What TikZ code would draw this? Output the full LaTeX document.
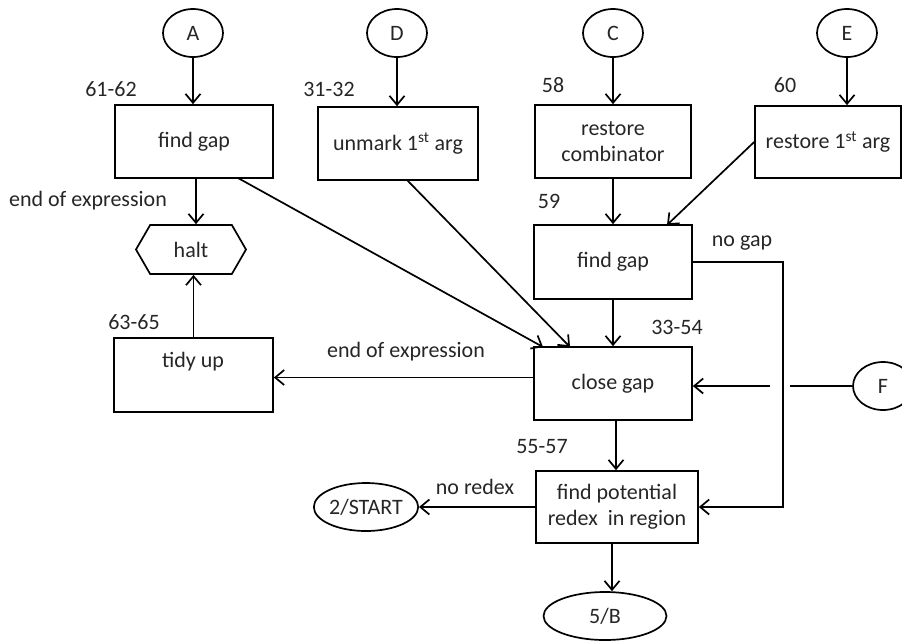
\documentclass[tikz,border=0pt]{standalone}
\usepackage{fontspec}
\setmainfont{Carlito}
\usetikzlibrary{shapes.geometric,shapes.symbols,arrows.meta,calc}
\begin{document}
\begin{tikzpicture}[x=1pt,y=-1pt,
  every node/.style={font=\fontsize{22}{26}\selectfont, text=black!85},
  box/.style={draw, line width=1.7pt, rectangle, align=center, inner sep=0pt},
  oval/.style={draw, line width=1.7pt, ellipse, inner sep=0pt},
  lbl/.style={inner sep=0pt},
  conn/.style={line width=1.7pt},
  arr/.style={conn, -{Straight Barb[length=9pt,width=15pt,line width=1.7pt]}}]
\useasboundingbox (0,0) rectangle (902,641);
% top ovals
\node[oval, minimum width=60, minimum height=48] (A) at (193,33) {A};
\node[oval, minimum width=60, minimum height=48] (D) at (397,33) {D};
\node[oval, minimum width=60, minimum height=48] (C) at (613,33) {C};
\node[oval, minimum width=60, minimum height=48] (E) at (847,33) {E};
% boxes
\node[box, minimum width=158, minimum height=73] (fg1) at (194,141.5) {find gap};
\node[box, minimum width=160, minimum height=73] (unmark) at (398,143.5) {unmark 1\textsuperscript{st} arg};
\node[box, minimum width=156, minimum height=73] (rc) at (613,141.5) {restore\\combinator};
\node[box, minimum width=146, minimum height=72] (r1) at (828,142) {restore 1\textsuperscript{st} arg};
\node[draw, line width=1.7pt, signal, signal to=west and east, signal pointer angle=120,
      minimum width=110, minimum height=49, inner sep=0pt] (halt) at (191,249.5) {halt};
\node[box, minimum width=158, minimum height=74] (fg2) at (613,262) {find gap};
\node[box, minimum width=158, minimum height=73] (close) at (613,383.5) {close gap};
\node[box, minimum width=159, minimum height=74] (tidy) at (193.5,375) {};
\node[lbl] (tidytxt) at (193,362) {tidy up};
\node[box, minimum width=162, minimum height=72] (fp) at (617,507) {find potential\\redex\ \ in region};
\node[oval, minimum width=98, minimum height=48] (start) at (366,507) {2/START};
\node[oval, minimum width=123, minimum height=48] (B) at (605,616) {5/B};
\node[oval, minimum width=60, minimum height=48] (F) at (883,386) {F};
% labels
\node[lbl] (l1) at (111,89) {61-62};
\node[lbl] (l2) at (329,89) {31-32};
\node[lbl] (l3) at (553,85) {58};
\node[lbl] (l4) at (785,85) {60};
\node[lbl] (l5) at (549,201) {59};
\node[lbl] (l6) at (88,201) {end of expression};
\node[lbl] (l7) at (742,243) {no gap};
\node[lbl] (l8) at (134,322) {63-65};
\node[lbl] (l9) at (677,327) {33-54};
\node[lbl] (l10) at (406,352) {end of expression};
\node[lbl] (l11) at (542,447) {55-57};
\node[lbl] (l12) at (475,487) {no redex};
% helper coordinates
\coordinate (ng) at (783,262);
\coordinate (fa) at (790,386);
\coordinate (fb) at (770,386);
\coordinate (fg1s) at (196,178);
\coordinate (fg1d) at (238,178);
\coordinate (umd) at (407,180);
\coordinate (cl1) at (543,347);
\coordinate (cl2) at (570,347);
\coordinate (fg2t) at (667,225);
\coordinate (clw) at (534,377.5);
\coordinate (cls) at (616,420);
\coordinate (fps) at (612,543);
% connectors
\draw[arr] (A.south) -- (A.south |- fg1.north);
\draw[arr] (D.south) -- (D.south |- unmark.north);
\draw[arr] (C.south) -- (C.south |- rc.north);
\draw[arr] (E.south) -- (E.south |- r1.north);
\draw[arr] (fg1s) -- (fg1s |- halt.north);
\draw[arr] (tidy.north) -- (tidy.north |- halt.south);
\draw[arr] (fg1d) -- (cl1);
\draw[arr] (umd) -- (cl2);
\draw[arr] (r1.west) -- (fg2t);
\draw[arr] (rc.south) -- (fg2.north);
\draw[arr] (fg2.south) -- (close.north);
\draw[arr] (fg2.east) -- (ng) |- (fp.east);
\draw[conn] (F.west) -- (fa);
\draw[arr] (fb) -- (fb -| close.east);
\draw[arr] (clw) -- (clw -| tidy.east);
\draw[arr] (cls) -- (cls |- fp.north);
\draw[arr] (fp.west) -- (start.east);
\draw[arr] (fps) -- (fps |- B.north);
\end{tikzpicture}
\end{document}
